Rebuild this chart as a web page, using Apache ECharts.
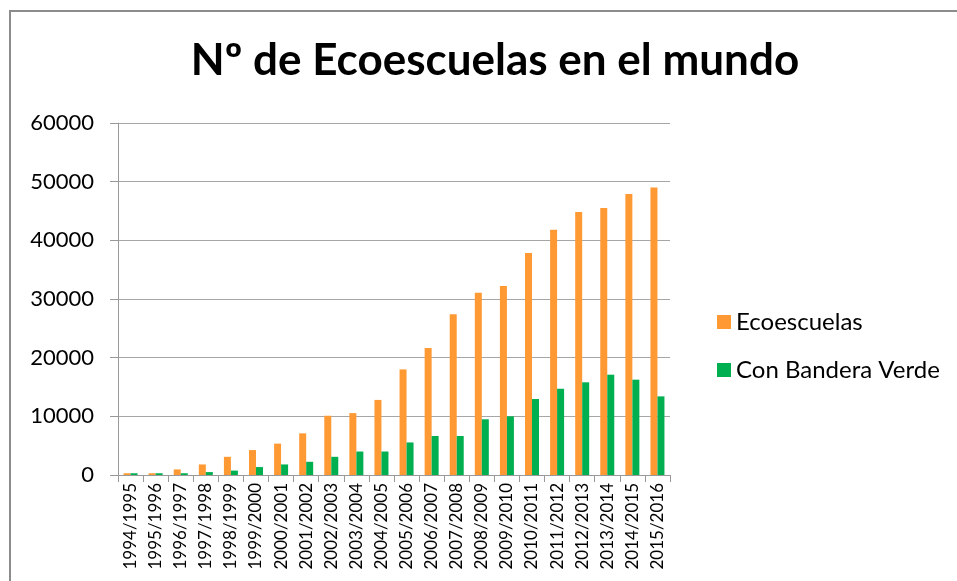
<!DOCTYPE html>
<html>
<head>
<meta charset="utf-8">
<script src="https://cdn.jsdelivr.net/npm/echarts@6/dist/echarts.min.js"></script>
<style>
  html, body { margin: 0; padding: 0; background: #fff; }
  #main { width: 957px; height: 581px; }
</style>
</head>
<body>
<div id="main"></div>
<script>
// cursos escolares
const cursos = [
  '1994/1995', '1995/1996', '1996/1997', '1997/1998', '1998/1999', '1999/2000',
  '2000/2001', '2001/2002', '2002/2003', '2003/2004', '2004/2005', '2005/2006',
  '2006/2007', '2007/2008', '2008/2009', '2009/2010', '2010/2011', '2011/2012',
  '2012/2013', '2013/2014', '2014/2015', '2015/2016'
];
// total de ecoescuelas
const ecoescuelas = [
  300, 300, 950, 1800, 3100, 4250, 5350, 7100, 10100, 10550, 12800, 18000,
  21650, 27400, 31050, 32200, 37850, 41800, 44850, 45500, 47900, 49000
];
// con bandera verde
const banderaVerde = [
  300, 300, 300, 500, 750, 1350, 1800, 2250, 3100, 4000, 4000, 5550,
  6650, 6650, 9500, 10000, 12950, 14700, 15800, 17100, 16250, 13400
];
const yTicks = { min: 0, max: 60000, interval: 10000 };

const fuente = 'Lato, "Open Sans", sans-serif';

let myChart = echarts.init(document.getElementById('main'));
let option = {
  animation: false,
  backgroundColor: '#fff',
  color: ['#FF9933', '#00B050'],
  title: {
    text: 'Nº de Ecoescuelas en el mundo',
    left: 490,
    top: 34,
    textAlign: 'center',
    textStyle: { fontFamily: fuente, fontSize: 44, fontWeight: 'bold', color: '#000' }
  },
  graphic: [{
    // marco del gráfico
    type: 'rect',
    shape: { x: 10, y: 11, width: 1000, height: 1000 },
    style: { fill: 'none', stroke: '#8c8c8c', lineWidth: 2 },
    silent: true
  }],
  legend: {
    orient: 'vertical',
    left: 712,
    top: 305,
    itemWidth: 14,
    itemHeight: 14,
    itemGap: 24,
    icon: 'rect',
    textStyle: { fontFamily: fuente, fontSize: 24, color: '#000' },
    data: ['Ecoescuelas', 'Con Bandera Verde']
  },
  grid: { left: 118, right: 287, top: 123, bottom: 106, containLabel: false },
  xAxis: {
    type: 'category',
    data: cursos,
    axisLine: { show: true, lineStyle: { color: '#999', width: 1 } },
    axisTick: { show: true, length: 7, lineStyle: { color: '#999' } },
    axisLabel: {
      rotate: 90, interval: 0, margin: 8,
      fontFamily: fuente, fontSize: 17, color: '#000'
    },
    splitLine: { show: false }
  },
  yAxis: {
    type: 'value',
    min: yTicks.min,
    max: yTicks.max,
    interval: yTicks.interval,
    axisLine: { show: true, lineStyle: { color: '#999', width: 1 } },
    axisTick: { show: true, length: 8, lineStyle: { color: '#999' } },
    axisLabel: {
      margin: 24, fontFamily: fuente, fontSize: 22, color: '#000',
      formatter: function (value) {
        return String(value);
      }
    },
    splitLine: { show: true, lineStyle: { color: '#a6a6a6', width: 1 } }
  },
  series: [
    { name: 'Ecoescuelas', type: 'bar', data: ecoescuelas, barWidth: 7, barGap: '0%' },
    { name: 'Con Bandera Verde', type: 'bar', data: banderaVerde, barWidth: 7, barGap: '0%' }
  ]
};
myChart.setOption(option);
</script>
</body>
</html>
